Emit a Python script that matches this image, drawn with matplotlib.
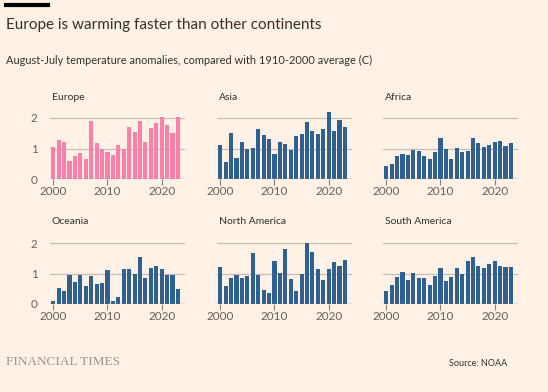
import numpy as np
import matplotlib.pyplot as plt

years = np.arange(2000, 2024)

europe = [1.05, 1.29, 1.20, 0.59, 0.76, 0.84, 0.65, 1.90, 1.19, 0.97, 0.89, 0.79,
          1.12, 0.98, 1.69, 1.54, 1.90, 1.22, 1.68, 1.85, 2.04, 1.77, 1.52, 2.04]
asia = [1.12, 0.57, 1.52, 0.69, 1.22, 0.97, 1.02, 1.65, 1.44, 1.31, 0.82, 1.22,
        1.14, 0.95, 1.40, 1.48, 1.88, 1.58, 1.49, 1.64, 2.21, 1.57, 1.93, 1.70]
africa = [0.42, 0.48, 0.75, 0.82, 0.78, 0.96, 0.93, 0.74, 0.66, 0.88, 1.34, 0.97,
          0.64, 1.03, 0.89, 0.93, 1.34, 1.19, 1.05, 1.12, 1.22, 1.23, 1.07, 1.19]
oceania = [0.11, 0.51, 0.44, 0.94, 0.71, 0.96, 0.60, 0.91, 0.64, 0.68, 1.11, 0.10,
           0.22, 1.14, 1.15, 0.99, 1.53, 0.86, 1.17, 1.23, 1.15, 0.94, 0.94, 0.50]
north_america = [1.20, 0.60, 0.84, 0.94, 0.84, 0.93, 1.66, 0.96, 0.47, 0.36, 1.40, 1.01,
                 1.81, 0.83, 0.42, 0.99, 1.99, 1.70, 1.15, 0.78, 1.15, 1.38, 1.23, 1.43]
south_america = [0.42, 0.61, 0.87, 1.04, 0.80, 1.02, 0.84, 0.85, 0.62, 0.91, 1.17, 0.75,
                 0.87, 1.17, 0.97, 1.42, 1.53, 1.24, 1.17, 1.30, 1.42, 1.24, 1.22, 1.22]

panels = [("Europe", europe), ("Asia", asia), ("Africa", africa),
          ("Oceania", oceania), ("North America", north_america),
          ("South America", south_america)]

bg = "#fff1e5"
pink = "#ff7fab"
blue = "#30608f"
grid_c = "#c9bdb3"
text_c = "#33302e"
tick_c = "#66605c"

plt.rcParams['font.family'] = ['Lato', 'DejaVu Sans']

W, H = 548, 392
fig = plt.figure(figsize=(W / 100, H / 100), dpi=100, facecolor=bg)

# top black bar
fig.add_artist(plt.Line2D([6 / W, 48 / W], [1 - 5 / H, 1 - 5 / H], color="black", lw=3))
fig.text(6 / W, 1 - 25 / H, "Europe is warming faster than other continents",
         fontsize=11, color=text_c, va="center")
fig.text(6 / W, 1 - 60 / H, "August-July temperature anomalies, compared with 1910-2000 average (C)",
         fontsize=7.9, color=text_c, va="center")

lefts = [50, 217, 383]
zeros = [179, 304]
ax_w = 135
ymax = 2.3
px_per_unit = 30.5
ax_h = ymax * px_per_unit

for i, (name, vals) in enumerate(panels):
    row, col = divmod(i, 3)
    left = lefts[col]
    bottom = zeros[row]
    ax = fig.add_axes([left / W, (H - bottom) / H, ax_w / W, ax_h / H])
    ax.set_facecolor(bg)
    color = pink if name == "Europe" else blue
    ax.bar(years, vals, width=0.75, color=color, zorder=3)
    ax.set_xlim(1999.4, 2024.3)
    ax.set_ylim(0, ymax)
    for y in [1, 2]:
        ax.axhline(y, color=grid_c, lw=0.9, zorder=1)
    ax.axhline(0, color="#8a817b", lw=1.0, zorder=4)
    for s in ax.spines.values():
        s.set_visible(False)
    ax.set_xticks([2000, 2010, 2020])
    ax.tick_params(axis="x", length=4, width=0.8, color="#8a817b", labelsize=8.5,
                   labelcolor=tick_c, pad=1)
    ax.set_yticks([0, 1, 2])
    if col == 0:
        ax.tick_params(axis="y", length=0, labelsize=8.5, labelcolor=tick_c, pad=9)
    else:
        ax.tick_params(axis="y", length=0, labelleft=False)
    fig.text((left + 2) / W, (H - (bottom - 82)) / H, name, fontsize=7.5,
             color=text_c, va="center")

fig.text(6 / W, 1 - 362 / H, "FINANCIAL TIMES", family=["Liberation Serif", "DejaVu Serif"],
         fontsize=9.5, color="#9e9590", va="center")
fig.text(507 / W, 1 - 363 / H, "Source: NOAA", fontsize=6.5, color=text_c,
         ha="right", va="center")

fig.savefig("out.png", dpi=100, facecolor=bg)
